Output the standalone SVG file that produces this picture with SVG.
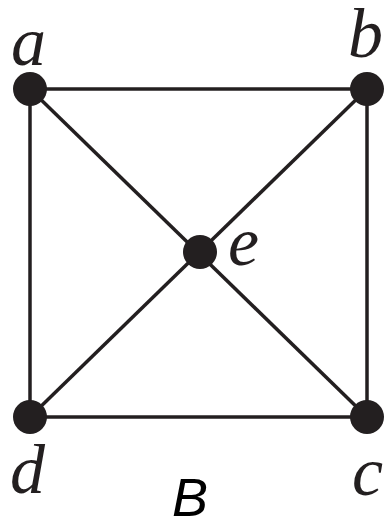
<svg xmlns="http://www.w3.org/2000/svg" width="385" height="522" viewBox="0 0 385 522">
<style>
.edge{stroke:#231f20;stroke-width:3.5;fill:none}
.node{fill:#231f20}
.lbl{font-family:"Liberation Serif",serif;font-style:italic;font-size:70px;fill:#231f20}
.cap{font-family:"Liberation Sans",sans-serif;font-style:italic;font-size:54px;fill:#000}
</style>
<rect width="385" height="522" fill="#fff"/>
<g id="connectors">
<line class="edge" x1="30" y1="89" x2="367" y2="89"/>
<line class="edge" x1="30" y1="89" x2="30" y2="417"/>
<line class="edge" x1="367" y1="89" x2="367" y2="417"/>
<line class="edge" x1="30" y1="417" x2="367" y2="417"/>
<line class="edge" x1="30" y1="89" x2="367" y2="417"/>
<line class="edge" x1="367" y1="89" x2="30" y2="417"/>
</g>
<g id="node-a"><circle class="node" cx="30" cy="89" r="17"/><text class="lbl" x="11" y="65">a</text></g>
<g id="node-b"><circle class="node" cx="367" cy="89" r="17"/><text class="lbl" x="348" y="57">b</text></g>
<g id="node-e"><circle class="node" cx="200" cy="252" r="17"/><text class="lbl" x="228" y="265">e</text></g>
<g id="node-d"><circle class="node" cx="30" cy="417" r="17"/><text class="lbl" x="10" y="493">d</text></g>
<g id="node-c"><circle class="node" cx="367" cy="417" r="17"/><text class="lbl" x="352" y="495">c</text></g>
<text class="cap" x="172" y="516">B</text>
</svg>
